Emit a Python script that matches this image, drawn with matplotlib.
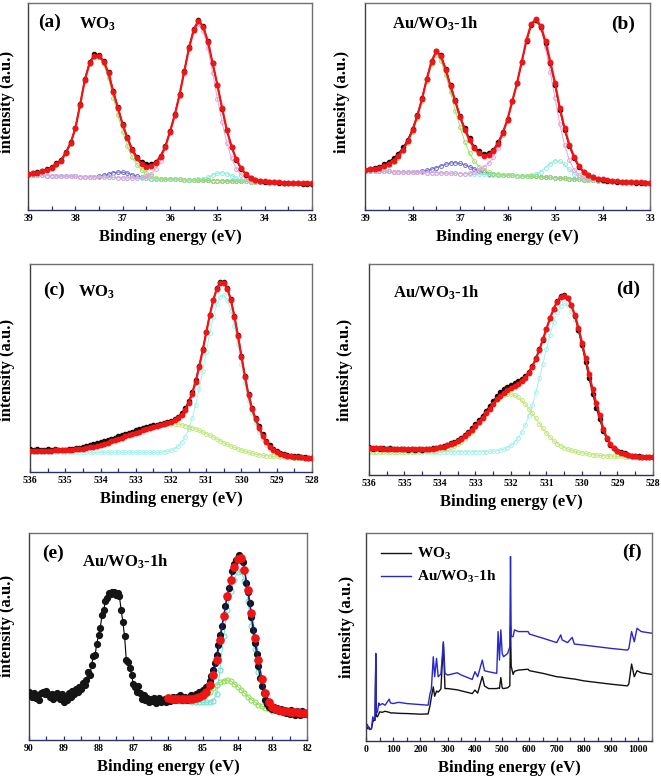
import numpy as np
import matplotlib
matplotlib.use('Agg')
import matplotlib.pyplot as plt
from matplotlib.ticker import MultipleLocator

plt.rcParams['font.family'] = ['Liberation Serif', 'DejaVu Serif']
plt.rcParams['font.weight'] = 'bold'
plt.rcParams['mathtext.default'] = 'regular'

# ---------------- W 4f, WO3 (a) ----------------  39 -> 33 eV, 0.1 eV step
w4f_env_a = [17.5, 17.8, 18.1, 18.8, 19.6, 20.6, 22.2, 23.9, 27.8, 32.4,
             39.6, 51.0, 63.1, 71.2, 74.8, 74.8, 72.0, 66.3, 57.4, 49.4,
             41.3, 34.8, 29.1, 25.1, 22.3, 21.0, 21.5, 22.7, 25.9, 30.7,
             38.0, 46.1, 55.8, 67.2, 78.5, 87.4, 91.9, 89.0, 81.7, 71.2,
             60.7, 49.4, 38.8, 30.7, 24.6, 20.2, 17.5, 15.7, 14.7, 14.2,
             13.9, 13.8, 13.6, 13.4, 13.3, 13.3, 13.1, 13.1, 12.9, 12.9, 12.9]
w4f_raw_a = [17.7, 18.0, 18.4, 19.0, 19.9, 21.0, 22.6, 24.5, 28.3, 32.9,
             40.0, 51.5, 63.5, 71.8, 75.6, 75.3, 72.4, 66.8, 58.0, 49.8,
             41.8, 35.3, 29.8, 25.9, 23.3, 22.2, 22.3, 23.4, 26.4, 31.1,
             38.4, 46.5, 56.2, 67.6, 79.0, 88.0, 92.3, 89.3, 81.9, 71.3,
             60.6, 49.2, 38.6, 30.4, 24.3, 19.9, 17.2, 15.5, 14.6, 14.1,
             13.8, 13.6, 13.5, 13.3, 13.2, 13.2, 13.0, 13.0, 12.8, 12.8, 12.7]
w4f_bg_a = [17.0, 16.9, 16.9, 16.8, 16.7, 16.7, 16.6, 16.5, 16.5, 16.4,
            16.3, 16.2, 16.2, 16.1, 16.0, 16.0, 15.9, 15.8, 15.8, 15.7,
            15.6, 15.6, 15.5, 15.4, 15.4, 15.3, 15.2, 15.2, 15.1, 15.0,
            15.0, 14.9, 14.8, 14.7, 14.7, 14.6, 14.5, 14.5, 14.4, 14.3,
            14.3, 14.2, 14.1, 14.1, 14.0, 13.9, 13.9, 13.8, 13.7, 13.7,
            13.6, 13.5, 13.4, 13.4, 13.3, 13.2, 13.2, 13.1, 13.0, 13.0, 12.9]
green_a_peak = [17.2, 17.5, 17.8, 18.5, 19.3, 20.3, 21.9, 23.6, 27.5, 32.1,
                39.3, 50.7, 62.8, 70.9, 74.5, 74.4, 71.0, 64.0, 54.5, 46.0,
                38.0, 31.0, 25.5, 22.0, 19.5, 17.8, 16.5, 15.6, 15.2, 15.0]  # idx 0-29
pink_a_peak = [15.6, 15.8, 16.3, 17.5, 20.0, 24.0, 30.0, 37.5, 45.6, 55.3,
               66.7, 78.0, 86.9, 90.5, 87.0, 78.5, 66.5, 54.0, 42.5, 32.5,
               25.0, 20.0, 17.0, 15.3, 14.4, 14.0, 13.8, 13.6]  # idx 23-50
purple_a_peak = [16.2, 16.5, 16.9, 17.4, 18.1, 18.4, 18.3, 17.9, 17.1, 16.4, 15.9, 15.5]  # idx 14-25
cyan_a_peak = [14.7, 14.8, 15.2, 15.9, 16.9, 17.8, 18.1, 17.6, 16.7, 15.5, 14.7, 14.2, 13.9]  # idx 35-47

# ---------------- W 4f, Au/WO3-1h (b) ----------------
w4f_env_b = [19.3, 19.7, 20.0, 20.4, 21.2, 22.3, 23.9, 26.0, 29.2, 33.2,
             38.5, 45.3, 53.6, 63.2, 71.7, 76.6, 74.2, 67.7, 59.7, 52.5,
             44.9, 38.8, 33.7, 29.7, 27.3, 26.0, 26.5, 28.4, 32.1, 37.2,
             43.7, 52.5, 61.3, 71.7, 82.2, 89.9, 92.1, 88.9, 81.4, 71.7,
             61.3, 49.3, 39.6, 31.6, 25.7, 21.2, 18.5, 16.9, 15.9, 15.2,
             14.8, 14.4, 14.1, 13.8, 13.6, 13.5, 13.5, 13.3, 13.3, 13.2, 13.2]
w4f_raw_b = [19.5, 19.9, 20.4, 21.0, 22.0, 23.4, 25.0, 27.2, 30.2, 34.0,
             39.2, 45.8, 54.0, 63.5, 72.0, 77.0, 74.8, 68.2, 60.3, 53.0,
             45.6, 39.6, 34.6, 30.6, 28.3, 27.0, 27.4, 29.2, 32.6, 37.5,
             43.9, 52.6, 61.2, 71.4, 81.8, 89.5, 91.9, 88.4, 80.7, 70.8,
             60.3, 48.3, 38.7, 30.9, 25.1, 20.8, 18.2, 16.7, 15.7, 15.0,
             14.6, 14.2, 13.9, 13.7, 13.5, 13.4, 13.4, 13.2, 13.2, 13.1, 13.1]
w4f_bg_b = [18.8, 18.8, 18.7, 18.7, 18.6, 18.6, 18.5, 18.5, 18.4, 18.4,
            18.3, 18.2, 18.2, 18.1, 18.1, 18.0, 17.9, 17.8, 17.8, 17.7,
            17.6, 17.5, 17.5, 17.4, 17.3, 17.2, 17.1, 17.1, 17.0, 16.9,
            16.8, 16.7, 16.6, 16.5, 16.4, 16.3, 16.2, 16.0, 15.9, 15.7,
            15.6, 15.4, 15.3, 15.1, 15.0, 14.8, 14.6, 14.5, 14.3, 14.2,
            14.0, 13.9, 13.8, 13.7, 13.6, 13.5, 13.4, 13.4, 13.3, 13.3, 13.2]
green_b_peak = [19.0, 19.4, 19.7, 20.1, 20.8, 21.8, 23.3, 25.3, 28.5, 32.4,
                37.7, 44.5, 52.8, 62.3, 70.7, 75.0, 72.0, 65.0, 57.0, 48.0,
                40.0, 33.0, 27.5, 23.5, 21.0, 19.3, 18.3, 17.6, 17.2, 17.0]  # idx 0-29
pink_b_peak = [17.8, 18.3, 19.2, 20.8, 22.5, 25.5, 30.0, 36.0, 43.0, 52.0,
               61.0, 71.3, 81.8, 89.3, 91.3, 87.5, 78.5, 66.5, 54.0, 41.5,
               31.5, 24.0, 19.5, 17.0, 15.8, 15.0, 14.6, 14.3, 14.1]  # idx 22-50
purple_b_peak = [18.4, 18.5, 18.7, 19.1, 19.7, 20.4, 21.3, 22.1, 22.7, 22.8,
                 22.5, 21.8, 20.9, 19.8, 18.9, 18.2, 17.6, 17.4, 17.1]  # idx 10-28
cyan_b_peak = [16.5, 16.7, 17.3, 18.5, 20.4, 22.4, 23.8, 23.6, 22.0, 19.6,
               17.5, 15.9, 15.0, 14.6]  # idx 34-47

# ---------------- O 1s (c) WO3 ----------------  536 -> 528 eV, 0.1 eV step
o1s_env_c = [10.4, 10.4, 10.4, 10.4, 10.4, 10.4, 10.4, 10.5, 10.5, 10.6,
             10.6, 10.7, 10.8, 10.9, 11.1, 11.3, 11.6, 11.9, 12.3, 12.7,
             13.2, 13.7, 14.2, 14.8, 15.4, 16.0, 16.6, 17.2, 17.8, 18.4,
             19.0, 19.6, 20.2, 20.8, 21.3, 21.8, 22.3, 22.8, 23.3, 23.8,
             24.4, 25.1, 26.1, 27.7, 30.0, 33.4, 37.9, 43.8, 50.9, 59.0,
             67.6, 76.0, 83.3, 88.8, 91.8, 91.8, 88.9, 83.1, 75.2, 65.8,
             55.8, 46.0, 37.1, 30.5, 25.5, 21.5, 17.5, 14.5, 12.3, 10.6,
             9.5, 8.8, 8.3, 7.9, 7.6, 7.4, 7.2, 7.1, 7.0, 6.9, 6.8]
o1s_raw_c = [10.9, 10.6, 11.2, 10.7, 10.5, 11.0, 10.6, 10.9, 10.7, 10.5,
             10.8, 11.0, 11.2, 11.5, 11.8, 12.2, 12.5, 12.9, 13.4, 13.9,
             14.4, 15.0, 15.5, 16.2, 16.7, 17.3, 17.9, 18.4, 19.1, 19.6,
             20.2, 20.7, 21.3, 21.8, 22.2, 22.6, 22.9, 23.2, 23.5, 24.0,
             24.6, 25.5, 26.8, 28.6, 31.0, 34.2, 38.6, 44.4, 51.4, 59.4,
             67.9, 76.2, 83.5, 89.0, 92.0, 92.2, 89.3, 83.6, 75.8, 66.4,
             56.4, 46.6, 37.8, 31.2, 26.2, 22.2, 18.2, 15.1, 12.9, 11.2,
             10.0, 9.1, 8.8, 8.2, 7.9, 7.6, 7.5, 7.2, 7.1, 7.0, 6.9]
o1s_green_c = [10.4, 10.4, 10.4, 10.4, 10.4, 10.4, 10.4, 10.5, 10.5, 10.6,
               10.6, 10.7, 10.8, 10.9, 11.1, 11.3, 11.6, 11.9, 12.3, 12.7,
               13.2, 13.7, 14.2, 14.8, 15.4, 16.0, 16.6, 17.2, 17.8, 18.4,
               19.0, 19.6, 20.2, 20.8, 21.3, 21.8, 22.3, 22.7, 23.0, 23.3,
               23.4, 23.4, 23.2, 22.9, 22.5, 22.0, 21.4, 20.8, 20.1, 19.4,
               18.6, 17.8, 16.9, 16.0, 15.1, 14.2, 13.4, 12.6, 11.9, 11.2,
               10.6, 10.0, 9.5, 9.1, 8.7, 8.4, 8.1, 7.9, 7.7, 7.6,
               7.5, 7.4, 7.3, 7.2, 7.1, 7.0, 7.0, 6.9, 6.9, 6.8, 6.8]
o1s_cyan_c = [9.5] * 37 + [9.6, 9.8, 10.0, 10.5, 11.2, 12.4, 14.3, 17.0, 20.9, 26.0,
                           32.5, 40.3, 49.0, 58.3, 67.3, 75.3, 81.4, 85.0, 85.7, 83.4,
                           78.2, 70.8, 61.9, 52.4, 43.1, 34.6, 28.5, 23.5, 19.5, 16.0,
                           13.2, 11.2, 9.6, 8.6, 8.0, 7.6, 7.3, 7.1, 7.0, 6.9,
                           6.8, 6.8, 6.8, 6.8]

# ---------------- O 1s (d) Au/WO3-1h ----------------
o1s_env_d = [12.8, 12.7, 12.6, 12.6, 12.5, 12.4, 12.4, 12.3, 12.3, 12.2,
             12.2, 12.1, 12.1, 12.1, 12.1, 12.1, 12.2, 12.3, 12.5, 12.8,
             13.1, 13.5, 14.0, 14.6, 15.3, 16.1, 17.1, 18.3, 19.7, 21.3,
             23.0, 24.9, 27.0, 29.2, 31.5, 33.8, 35.8, 37.6, 39.0, 40.2,
             41.2, 42.2, 43.2, 44.5, 46.2, 48.5, 51.4, 55.1, 59.4, 64.3,
             69.4, 74.4, 78.7, 82.2, 84.4, 85.0, 83.7, 80.5, 75.8, 69.7,
             62.8, 55.3, 47.8, 40.6, 34.0, 28.3, 21.8, 17.7, 14.8, 12.8,
             11.4, 10.5, 9.8, 9.4, 9.0, 8.8, 8.7, 8.6, 8.5, 8.5, 8.4]
o1s_raw_d = [13.1, 12.5, 12.9, 12.4, 12.8, 12.3, 12.6, 12.1, 12.5, 12.2,
             12.4, 11.9, 12.3, 12.0, 12.2, 12.0, 12.4, 12.5, 12.8, 13.0,
             13.5, 13.8, 14.4, 15.0, 15.8, 16.6, 17.7, 19.0, 20.5, 22.2,
             24.0, 26.0, 28.2, 30.5, 32.8, 35.2, 37.3, 39.3, 40.7, 41.8,
             42.8, 43.6, 44.4, 45.4, 46.8, 49.0, 51.8, 55.3, 59.5, 64.2,
             69.2, 74.2, 78.6, 82.4, 84.8, 85.4, 84.0, 80.4, 75.2, 68.6,
             61.4, 53.6, 45.8, 38.5, 32.0, 26.4, 20.8, 17.0, 14.4, 12.7,
             11.6, 10.8, 10.2, 9.6, 9.2, 9.0, 8.8, 8.6, 8.6, 8.5, 8.4]
o1s_green_d = [11.1] * 15 + [11.2, 11.2, 11.3, 11.4, 11.6, 11.8, 12.1, 12.5, 13.1, 13.8,
                             14.7, 15.8, 17.2, 18.8, 20.6, 22.6, 24.7, 27.0, 29.3, 31.5,
                             33.6, 35.4, 36.8, 37.8, 38.3, 38.3, 37.8, 36.8, 35.4, 33.6,
                             31.5, 29.2, 26.8, 24.4, 22.1, 19.9, 18.0, 16.3, 14.9, 13.8,
                             13.0, 12.3, 11.7, 11.2, 10.8, 10.5, 10.2, 9.9, 9.7, 9.5,
                             9.3, 9.2, 9.1, 9.0, 8.9, 8.8, 8.8, 8.7, 8.7, 8.6,
                             8.6, 8.5, 8.5, 8.5, 8.4, 8.4]
o1s_cyan_d = [11.1] * 34 + [11.2, 11.3, 11.5, 11.8, 12.3, 13.0, 14.0, 15.5, 17.5, 20.2,
                            23.7, 28.1, 33.2, 39.2, 45.8, 52.8, 59.9, 66.6, 72.4, 77.1,
                            80.2, 81.4, 80.6, 77.9, 73.5, 67.7, 61.0, 53.7, 46.4, 39.3,
                            32.9, 26.5, 21.0, 17.0, 14.2, 12.3, 11.0, 10.1, 9.5, 9.1,
                            8.8, 8.6, 8.5, 8.5, 8.4, 8.4, 8.4]

# ---------------- Au 4f (e) ----------------  raw 90 -> 82 eV (0.05 step)
au4f_raw = [23.0, 22.0, 21.0, 22.5, 20.5, 21.5, 19.5, 22.5, 23.0, 22.0,
            23.5, 22.0, 21.0, 22.0, 20.0, 21.5, 22.5, 21.0, 20.0, 22.0,
            18.5, 21.0, 19.5, 22.5, 21.0, 23.5, 22.0, 24.5, 23.0, 25.5,
            24.5, 27.5, 26.5, 29.0, 33.0, 31.5, 36.0, 40.5, 41.0, 46.5,
            50.5, 54.0, 60.5, 63.0, 67.0, 68.5, 71.0, 70.5, 71.5, 71.5,
            70.0, 71.0, 69.5, 63.0, 57.0, 50.0, 38.5, 37.5, 35.0, 31.5,
            27.0, 25.5, 23.0, 26.0, 22.5, 20.0, 21.5, 19.5, 20.5, 18.5,
            20.0, 19.0, 20.5, 18.0, 19.5, 20.5, 18.5, 19.5, 20.0, 18.5,
            20.5, 19.0, 20.5, 21.0, 19.5, 21.0, 20.0, 21.5, 19.5, 20.5,
            21.0, 19.5, 20.5, 21.5, 20.0, 21.0, 22.0, 21.5, 23.0, 22.5,
            24.0, 23.5, 25.5, 26.0, 28.5, 31.0, 34.0, 37.0, 41.0, 46.0,
            50.5, 55.0, 60.0, 64.5, 69.0, 73.5, 77.5, 81.5, 85.0, 87.0,
            88.0, 89.5, 87.5, 86.0, 82.0, 76.0, 71.5, 66.0, 59.5, 53.0,
            47.0, 41.5, 35.5, 30.0, 26.0, 22.5, 19.5, 17.5, 16.0, 15.5,
            15.0, 16.0, 14.5, 15.5, 14.0, 15.0, 13.5, 14.5, 13.0, 14.0,
            12.5, 14.5, 13.5, 12.0, 14.0, 13.0, 12.0, 14.0, 12.5, 13.0,
            12.5]
# fit envelope 86 -> 82 eV (0.1 step)
au4f_env = [20.2, 20.0, 19.9, 19.8, 19.7, 19.7, 19.8, 20.0, 20.4, 21.0,
            21.8, 23.4, 26.6, 31.5, 38.7, 48.5, 59.7, 69.5, 77.4, 83.5,
            87.4, 87.8, 82.3, 72.5, 61.3, 49.5, 38.7, 29.5, 22.6, 18.5,
            16.1, 15.1, 14.5, 14.1, 13.9, 13.7, 13.5, 13.3, 13.1, 13.0, 12.9]
# components 86 -> 83 eV (0.1 step)
au4f_cyan = [19.8, 19.6, 19.4, 19.2, 19.0, 18.8, 18.6, 18.4, 18.3, 18.2,
             18.2, 18.2, 18.3, 19.0, 22.0, 34.0, 50.0, 63.0, 72.0, 77.5,
             81.0, 81.8, 77.0, 67.0, 55.0, 44.0, 33.0, 25.5, 20.5, 17.5, 16.0]
au4f_green = [20.8, 20.6, 20.5, 20.4, 20.3, 20.2, 20.2, 20.3, 20.5, 20.7,
              21.0, 22.0, 23.4, 25.0, 26.6, 27.8, 28.7, 29.0, 28.6, 27.2,
              25.8, 24.3, 22.6, 21.0, 19.5, 18.2, 17.1, 16.2, 15.5, 14.8, 14.2]

# ---------------- survey (f) ----------------
survey_be = [0, 5, 10, 15, 20, 25, 30, 33, 36, 38, 42, 47, 50, 60, 70, 85, 90, 100,
             120, 150, 200, 228, 235, 240, 247, 252, 259, 265, 275, 284, 290, 300,
             335, 350, 390, 400, 410, 427, 435, 450, 480, 485, 490, 495, 500, 505,
             520, 528, 530.5, 533, 540, 545, 560, 595, 600, 650, 700, 715, 720, 740,
             757, 765, 800, 900, 960, 965, 975, 985, 995, 1010, 1050]
survey_wo3 = [7.6, 5.9, 6.8, 5.5, 5.9, 9.2, 10.3, 9.9, 38.0, 12.0, 11.6, 13.0, 14.0,
              13.8, 14.3, 13.8, 13.5, 13.5, 13.3, 13.2, 12.9, 13.0, 17.0, 21.0, 26.0,
              21.5, 24.0, 23.5, 25.0, 47.0, 25.2, 25.2, 24.6, 24.1, 22.8, 24.5, 23.0,
              31.0, 26.5, 25.2, 25.2, 25.5, 25.3, 30.5, 25.5, 25.2, 25.6, 26.5, 55.0,
              36.0, 32.0, 33.5, 34.1, 34.5, 33.8, 32.5, 30.9, 30.7, 30.6, 30.2, 29.9,
              29.8, 28.9, 27.3, 26.5, 27.5, 37.0, 30.9, 33.8, 32.8, 32.0]
survey_au = [7.1, 8.0, 5.9, 5.5, 5.9, 11.6, 10.3, 10.5, 42.1, 13.2, 14.0, 18.3, 17.2,
             18.0, 17.2, 20.1, 18.3, 18.0, 18.6, 18.0, 17.5, 17.2, 22.8, 25.0, 40.5,
             30.9, 39.7, 30.9, 32.2, 47.7, 32.5, 31.7, 32.8, 31.7, 29.6, 33.3, 30.9,
             38.9, 33.8, 33.3, 32.5, 52.6, 38.9, 53.4, 42.1, 40.5, 42.1, 45.3, 88.7,
             50.2, 50.2, 53.4, 52.6, 52.6, 51.4, 49.4, 47.3, 51.0, 48.6, 47.3, 49.8,
             46.6, 46.1, 44.5, 43.7, 44.5, 52.6, 47.7, 54.2, 52.6, 51.8]

w4f_ticks = [39, 38, 37, 36, 35, 34, 33]
o1s_ticks = [536, 535, 534, 533, 532, 531, 530, 529, 528]
au4f_ticks = [90, 89, 88, 87, 86, 85, 84, 83, 82]
survey_ticks = [0, 100, 200, 300, 400, 500, 600, 700, 800, 900, 1000]

GREEN = '#9ee36c'
PINK = '#e6a2dc'
PURPLE = '#6c6cd0'
CYAN = '#8eeedd'
RED = '#f01414'


def patch(base, start, values):
    out = list(base)
    out[start:start + len(values)] = values
    return out


def comp(ax, x, y, c, ms=2.8):
    ax.plot(x, y, '-', color=c, lw=0.7, marker='o', ms=ms, mfc='none', mec=c, mew=0.7, zorder=2)


def data(ax, x, raw, env):
    ax.plot(x, raw, '-', color='k', lw=0.8, marker='o', ms=3.0, mfc='#111111', mec='#111111', zorder=3)
    ax.plot(x, env, '-', color=RED, lw=1.6, marker='o', ms=3.2, mfc=RED, mec=RED, zorder=4)


def style(ax, xlim, ticks, minor, ylabel_x, ylabel_y):
    ax.set_xlim(*xlim)
    ax.set_ylim(0, 100)
    ax.set_xticks(ticks)
    ax.set_xticklabels([str(t) for t in ticks])
    ax.xaxis.set_minor_locator(MultipleLocator(minor))
    ax.set_yticks([])
    ax.tick_params(axis='x', which='both', direction='in', labelsize=7, pad=3,
                   length=3, width=0.9, color='#303060')
    for s in ax.spines.values():
        s.set_color('#707070')
        s.set_linewidth(1.0)
    ax.spines['bottom'].set_color('#303060')
    ax.spines['left'].set_color('#404040')
    ax.set_xlabel('Binding energy (eV)', fontsize=12, fontweight='bold', labelpad=4)
    ax.set_ylabel('intensity (a.u.)', fontsize=12, fontweight='bold')
    ax.yaxis.set_label_coords(ylabel_x, ylabel_y)


def label(ax, x, y, s, size=12, ha='left'):
    ax.text(x, y, s, transform=ax.transAxes, fontsize=size, fontweight='bold',
            ha=ha, va='center')


fig = plt.figure(figsize=(6.61, 7.80), dpi=100)
ax_a = fig.add_axes([0.0424, 0.7308, 0.4297, 0.2654])
ax_b = fig.add_axes([0.5522, 0.7308, 0.4312, 0.2654])
ax_c = fig.add_axes([0.0454, 0.3949, 0.4266, 0.2667])
ax_d = fig.add_axes([0.5582, 0.3910, 0.4297, 0.2705])
ax_e = fig.add_axes([0.0439, 0.0513, 0.4206, 0.2654])
ax_f = fig.add_axes([0.5537, 0.0500, 0.4327, 0.2667])

# (a)
E_w = np.linspace(39.0, 33.0, len(w4f_env_a))
comp(ax_a, E_w, patch(w4f_bg_a, 14, purple_a_peak), PURPLE)
comp(ax_a, E_w, patch(w4f_bg_a, 35, cyan_a_peak), CYAN)
comp(ax_a, E_w, patch(w4f_bg_a, 0, green_a_peak), GREEN)
comp(ax_a, E_w, patch(w4f_bg_a, 23, pink_a_peak), PINK)
data(ax_a, E_w, w4f_raw_a, w4f_env_a)
style(ax_a, (39, 33), w4f_ticks, 0.5, -0.047, 0.52)
ax_a.set_ylim(0, 100.5)
label(ax_a, 0.035, 0.905, '(a)', 14)
label(ax_a, 0.18, 0.895, 'WO$_3$')

# (b)
comp(ax_b, E_w, patch(w4f_bg_b, 10, purple_b_peak), PURPLE)
comp(ax_b, E_w, patch(w4f_bg_b, 34, cyan_b_peak), CYAN)
comp(ax_b, E_w, patch(w4f_bg_b, 0, green_b_peak), GREEN)
comp(ax_b, E_w, patch(w4f_bg_b, 22, pink_b_peak), PINK)
data(ax_b, E_w, w4f_raw_b, w4f_env_b)
style(ax_b, (39, 33), w4f_ticks, 0.5, -0.053, 0.52)
label(ax_b, 0.095, 0.90, 'Au/WO$_3$-1h')
label(ax_b, 0.947, 0.895, '(b)', 14, ha='right')

# (c)
E_o = np.linspace(536.0, 528.0, len(o1s_env_c))
comp(ax_c, E_o, o1s_cyan_c, '#a6f2ea')
comp(ax_c, E_o, o1s_green_c, '#bfe87a')
data(ax_c, E_o, o1s_raw_c, o1s_env_c)
style(ax_c, (536, 528), o1s_ticks, 0.5, -0.053, 0.49)
ax_c.set_ylim(0, 100.8)
label(ax_c, 0.045, 0.875, '(c)', 14)
label(ax_c, 0.17, 0.865, 'WO$_3$')

# (d)
comp(ax_d, E_o, o1s_cyan_d, '#a6f2ea')
comp(ax_d, E_o, o1s_green_d, '#bfe87a')
data(ax_d, E_o, o1s_raw_d, o1s_env_d)
style(ax_d, (536, 528), o1s_ticks, 0.5, -0.056, 0.50)
label(ax_d, 0.085, 0.862, 'Au/WO$_3$-1h')
label(ax_d, 0.954, 0.88, '(d)', 14, ha='right')

# (e)
E_raw = np.linspace(90.0, 82.0, len(au4f_raw))
E_fit = np.linspace(86.0, 82.0, len(au4f_env))
E_cmp = np.linspace(86.0, 83.0, len(au4f_cyan))
ax_e.plot(E_raw, au4f_raw, '-', color='k', lw=0.8, marker='o', ms=4.2,
          mfc='#151515', mec='#151515', zorder=3)
ax_e.plot(E_cmp, au4f_green, '-', color='#8fe05a', lw=0.7, marker='o', ms=3.6,
          mfc='none', mec='#8fe05a', mew=0.8, zorder=2)
ax_e.plot(E_cmp, au4f_cyan, '-', color='#6fe3cf', lw=0.7, marker='o', ms=3.6,
          mfc='none', mec='#6fe3cf', mew=0.8, zorder=2)
ax_e.plot(E_fit, au4f_env, '-', color='#202080', lw=1.0, zorder=4)
ax_e.plot(E_fit, au4f_env, 'o', ms=5.2, mfc=RED, mec=RED, zorder=5)
style(ax_e, (90, 82), au4f_ticks, 0.5, -0.05, 0.55)
label(ax_e, 0.047, 0.90, '(e)', 14)
label(ax_e, 0.19, 0.86, 'Au/WO$_3$-1h')

# (f)
ax_f.plot(survey_be, survey_wo3, '-', color='#111111', lw=1.0, label='WO$_3$')
ax_f.plot(survey_be, survey_au, '-', color='#2828c8', lw=1.0, label='Au/WO$_3$-1h')
style(ax_f, (0, 1050), survey_ticks, 50, -0.038, 0.55)
leg = ax_f.legend(loc='upper left', bbox_to_anchor=(0.03, 0.965), frameon=False,
                  fontsize=11, handlelength=2.0, handletextpad=0.4, labelspacing=0.45,
                  borderaxespad=0.0)
for t in leg.get_texts():
    t.set_fontweight('bold')
label(ax_f, 0.965, 0.905, '(f)', 14, ha='right')

fig.savefig('out.png', dpi=100)
